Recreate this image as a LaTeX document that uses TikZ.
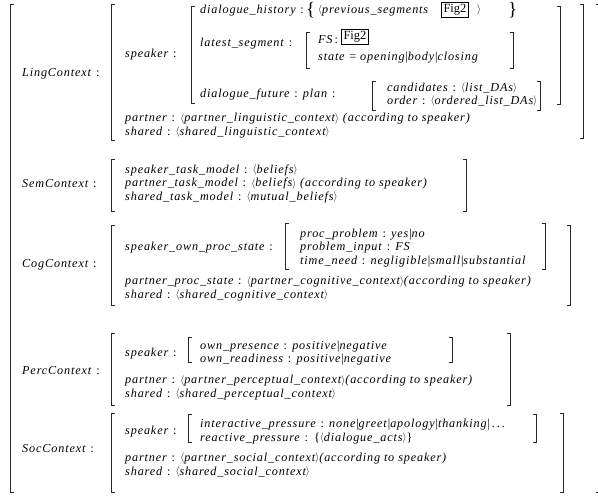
\documentclass[tikz,border=0pt]{standalone}
\usepackage{graphicx}
\usepackage{fontspec}
\setmainfont{Liberation Serif}
\newfontfamily\mi{Liberation Serif}[LetterSpace=7]
\newcommand\sz{\fontsize{12.2}{13}\selectfont}
\newcommand\co{ \textup{:} }
\newcommand\la{\raisebox{0.4pt}{\scalebox{0.85}{$\langle$}}}
\newcommand\ra{\raisebox{0.4pt}{\scalebox{0.85}{$\rangle$}}}
\newcommand\bb{\textup{|}}
\tikzset{
  tx/.style={anchor=base west, inner sep=0pt, text height=8.5pt, text depth=2.5pt, font=\sz\mi\itshape},
  figbox/.style={draw, line width=0.6pt, inner sep=2pt, font=\fontsize{12.5}{13}\selectfont\rmfamily\upshape, anchor=center},
  brace/.style={anchor=base west, inner sep=0pt, font=\fontsize{19}{19}\selectfont\rmfamily\upshape},
  brk/.style={line width=0.75pt, black!85}
}
\newcommand\lbr[3]{\draw[brk] (#1+3.5,#2) -- (#1,#2) -- (#1,#3) -- (#1+3.5,#3);}
\newcommand\rbr[3]{\draw[brk] (#1-3.5,#2) -- (#1,#2) -- (#1,#3) -- (#1-3.5,#3);}
\begin{document}
\begin{tikzpicture}[x=1pt,y=-1pt]
\useasboundingbox (0,0) rectangle (598,498);
% outer
\lbr{10}{4}{492}
\rbr{599.5}{4}{492}
% ---------------- LingContext
\node[tx] (ling) at (22,76) {LingContext\co};
\lbr{111}{4}{140} \rbr{583}{4}{138}
\node[tx] (lsp) at (125,57) {speaker\co};
\lbr{191}{6}{103} \rbr{560}{6}{104}
\node[tx] (dh) at (200,13) {dialogue\_history\co};
\node[brace] (dhl) at (306,15) {\{};
\node[tx] (dhp) at (318,13) {\la previous\_segments};
\node[figbox] (fig1) at (455,9.5) {Fig2};
\node[tx] (dhr) at (477,13) {\ra};
\node[brace] (dhrr) at (508,15) {\}};
\node[tx] (ls) at (200,46) {latest\_segment\co};
\lbr{306}{32}{68} \rbr{513}{32}{68}
\node[tx] (fs) at (318,43) {FS\,\textup{:}};
\node[figbox] (fig2) at (355,37) {Fig2};
\node[tx] (st) at (318,60) {state \textup{=} opening\bb body\bb closing};
\node[tx] (df) at (200,97) {dialogue\_future\co plan\co};
\lbr{372}{81}{110} \rbr{540}{81}{110}
\node[tx] (cand) at (387,91) {candidates\co\la list\_DAs\ra};
\node[tx] (ord) at (387,104) {order\co\la ordered\_list\_DAs\ra};
\node[tx] (lp) at (125,121.5) {partner\co\la partner\_linguistic\_context\ra\ (according to speaker)};
\node[tx] (lsh) at (125,135) {shared\co\la shared\_linguistic\_context\ra};
% ---------------- SemContext
\node[tx] (sem) at (22,187) {SemContext\co};
\lbr{111}{159}{211} \rbr{466}{159}{211}
\node[tx] (s1) at (125,173) {speaker\_task\_model\co\la beliefs\ra};
\node[tx] (s2) at (125,186.5) {partner\_task\_model\co\la beliefs\ra\ (according to speaker)};
\node[tx] (s3) at (125,200) {shared\_task\_model\co\la mutual\_beliefs\ra};
% ---------------- CogContext
\node[tx] (cog) at (22,267) {CogContext\co};
\lbr{111}{225}{305} \rbr{570}{225}{305}
\node[tx] (csp) at (125,250) {speaker\_own\_proc\_state\co};
\lbr{285}{223}{269} \rbr{545}{223}{269}
\node[tx] (c1) at (300,237) {proc\_problem\co yes\bb no};
\node[tx] (c2) at (300,250) {problem\_input\co FS};
\node[tx] (c3) at (300,264) {time\_need\co negligible\bb small\bb substantial};
\node[tx] (cp) at (125,284.5) {partner\_proc\_state\co\la partner\_cognitive\_context\ra(according to speaker)};
\node[tx] (csh) at (125,298) {shared\co\la shared\_cognitive\_context\ra};
% ---------------- PercContext
\node[tx] (perc) at (22,374) {PercContext\co};
\lbr{111}{333}{405} \rbr{510}{333}{405}
\node[tx] (psp) at (125,356) {speaker\co};
\lbr{188}{337}{362} \rbr{452}{337}{362}
\node[tx] (p1) at (200,349.5) {own\_presence\co positive\bb negative};
\node[tx] (p2) at (200,362) {own\_readiness\co positive\bb negative};
\node[tx] (pp) at (125,383.5) {partner\co\la partner\_perceptual\_context\ra(according to speaker)};
\node[tx] (psh) at (125,397) {shared\co\la shared\_perceptual\_context\ra};
% ---------------- SocContext
\node[tx] (soc) at (22,452) {SocContext\co};
\lbr{111}{413}{492} \rbr{563}{413}{492}
\node[tx] (ssp) at (125,434) {speaker\co};
\lbr{188}{414}{442} \rbr{536}{414}{442}
\node[tx] (o1) at (200,427.5) {interactive\_pressure\co none\bb greet\bb apology\bb thanking\bb\,.\,.\,.};
\node[tx] (o2) at (200,441) {reactive\_pressure\co\textup{\{}\la dialogue\_acts\ra\textup{\}}};
\node[tx] (op) at (125,461) {partner\co\la partner\_social\_context\ra(according to speaker)};
\node[tx] (osh) at (125,475) {shared\co\la shared\_social\_context\ra};
\end{tikzpicture}
\end{document}
